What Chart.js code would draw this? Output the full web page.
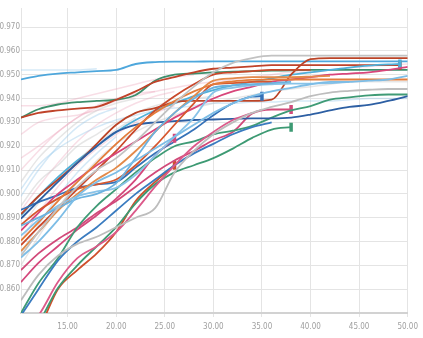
<!DOCTYPE html>
<html>
<head>
<meta charset="utf-8">
<script src="https://cdn.jsdelivr.net/npm/chart.js@4.4.1/dist/chart.umd.min.js"></script>
<style>
html, body { margin: 0; padding: 0; background: #fff; }
#wrap { width: 423px; height: 338px; }
</style>
</head>
<body>
<div id="wrap"><canvas id="runChart"></canvas></div>
<script>
//############################ Data ############################
// shared x positions (epoch) for every run
const epochs = [10.2, 12, 14, 16, 18, 20, 22, 24, 26, 28, 30, 32, 34, 36, 38, 40, 42, 44, 46, 48, 50];

// tick labels
const xTicks = [15, 20, 25, 30, 35, 40, 45, 50];
const yTicks = [0.86, 0.87, 0.88, 0.89, 0.90, 0.91, 0.92, 0.93, 0.94, 0.95, 0.96, 0.97];

// highlighted runs (accuracy per epoch)
const skyRun = [0.948, 0.9495, 0.9505, 0.951, 0.9515, 0.952, 0.9545, 0.9553, 0.9555, 0.9555, 0.9556, 0.9556, 0.9556, 0.9556, 0.9556, 0.9556, 0.9556, 0.9556, 0.9556, 0.9556, 0.9556];
const greenTop = [0.932, 0.9355, 0.9375, 0.9385, 0.939, 0.9395, 0.9415, 0.9475, 0.950, 0.9505, 0.951, 0.9513, 0.9515, 0.9517, 0.9518, 0.952, 0.952, 0.952, 0.952, 0.952, 0.952];
const redTop = [0.932, 0.934, 0.935, 0.9358, 0.9365, 0.9395, 0.943, 0.947, 0.949, 0.951, 0.9525, 0.953, 0.9535, 0.954, 0.954, 0.954, 0.954, 0.954, 0.954, 0.954];
const redTopEnd = [49.2, 0.954];
const redJump = [0.8915, 0.899, 0.906, 0.913, 0.921, 0.929, 0.934, 0.936, 0.9385, 0.939, 0.939, 0.939, 0.939, 0.9395, 0.950, 0.9565, 0.957, 0.957, 0.957, 0.957, 0.957];
const grayTop = [0.874, 0.884, 0.894, 0.903, 0.910, 0.915, 0.922, 0.930, 0.938, 0.945, 0.951, 0.955, 0.957, 0.958, 0.958, 0.958, 0.958, 0.958, 0.958, 0.958, 0.958];
const cyanRun = [0.891, 0.899, 0.907, 0.914, 0.920, 0.926, 0.931, 0.935, 0.938, 0.941, 0.9435, 0.9455, 0.947, 0.9485, 0.950, 0.951, 0.952, 0.953, 0.9538, 0.9543];
const cyanEnd = [49.2, 0.9545];
const pinkTop = [0.8846, 0.892, 0.900, 0.906, 0.912, 0.917, 0.922, 0.927, 0.932, 0.936, 0.940, 0.943, 0.945, 0.947, 0.948, 0.949, 0.950, 0.9505, 0.951, 0.952, 0.9533];
const lightBlueA = [0.8733, 0.880, 0.889, 0.899, 0.905, 0.909, 0.914, 0.919, 0.924, 0.929, 0.934, 0.938, 0.941, 0.943, 0.9445, 0.946, 0.947, 0.947, 0.9475, 0.948, 0.9495];
const orangeFlat = [0.8804, 0.888, 0.897, 0.905, 0.913, 0.921, 0.928, 0.934, 0.939, 0.943, 0.946, 0.9472, 0.9478, 0.948, 0.948, 0.948, 0.948, 0.948, 0.948, 0.948, 0.948];
const grayMid = [0.8554, 0.866, 0.874, 0.879, 0.882, 0.886, 0.890, 0.894, 0.909, 0.918, 0.925, 0.930, 0.934, 0.9365, 0.9385, 0.941, 0.9425, 0.9432, 0.9437, 0.944, 0.944];
const greenMid = [0.85, 0.8625, 0.873, 0.886, 0.895, 0.902, 0.909, 0.915, 0.920, 0.922, 0.925, 0.9265, 0.9285, 0.932, 0.935, 0.9368, 0.9395, 0.9405, 0.9413, 0.9417, 0.9417];
const darkBlue = [0.8896, 0.897, 0.905, 0.913, 0.920, 0.926, 0.929, 0.930, 0.9305, 0.931, 0.9312, 0.9315, 0.9317, 0.9317, 0.932, 0.9333, 0.935, 0.9365, 0.9373, 0.939, 0.941];
const blueShort = [0.8933, 0.8965, 0.8995, 0.9025, 0.904, 0.905, 0.911, 0.917, 0.922, 0.927, 0.933, 0.938, 0.9408];
const blueShortEnd = [35, 0.941];
const pinkMark = [0.868, 0.875, 0.881, 0.886, 0.892, 0.897, 0.903, 0.909, 0.914, 0.918, 0.9225, 0.926, 0.9337, 0.9354, 0.9354];
const greenMark = [0.84, 0.846, 0.8605, 0.870, 0.878, 0.886, 0.896, 0.904, 0.909, 0.912, 0.915, 0.919, 0.9235, 0.927, 0.928];
const pinkEarly = [0.863, 0.871, 0.878, 0.885, 0.891, 0.898, 0.906, 0.916, 0.9233];
const orangeEarly = [0.835, 0.843, 0.860, 0.868, 0.875, 0.884, 0.897, 0.905, 0.912];
const blueLow = [0.849, 0.860, 0.872, 0.880, 0.886, 0.893, 0.900, 0.906, 0.912, 0.917, 0.921, 0.925, 0.928, 0.930];
const lightBlueB = [0.8867, 0.890, 0.894, 0.898, 0.900, 0.9045, 0.915, 0.926, 0.934, 0.940, 0.9446, 0.9455, 0.946, 0.9465, 0.947];
const orangeMid = [0.876, 0.884, 0.893, 0.900, 0.906, 0.911, 0.918, 0.926, 0.934, 0.941, 0.9475, 0.9485, 0.949, 0.949, 0.949, 0.9492, 0.9495];
const orangeRed = [0.887, 0.893, 0.898, 0.902, 0.904, 0.906, 0.912, 0.920, 0.929, 0.938, 0.946, 0.9465, 0.947, 0.947];
const lightBlueC = [0.8825, 0.889, 0.895, 0.899, 0.901, 0.9025, 0.908, 0.916, 0.924, 0.932, 0.9425, 0.9445, 0.9455, 0.946, 0.9463, 0.9463, 0.9465, 0.947];
const pinkLow = [0.842, 0.849, 0.863, 0.873, 0.878, 0.884, 0.893, 0.903, 0.912, 0.920, 0.926, 0.931, 0.934];
const redMid = [0.8785, 0.886, 0.894, 0.902, 0.910, 0.918, 0.927, 0.935, 0.941, 0.946, 0.950, 0.951, 0.9515, 0.952, 0.952, 0.952];

// faded background runs
const fadeA = [0.905, 0.915, 0.923, 0.930, 0.935, 0.938, 0.940];
const fadeB = [0.910, 0.918, 0.926, 0.932, 0.937, 0.940, 0.942, 0.943];
const fadeC = [0.899, 0.910, 0.920, 0.928, 0.933, 0.936];
const fadeD = [0.937, 0.937, 0.938, 0.940, 0.942, 0.944, 0.946, 0.948, 0.949, 0.950];
const fadeE = [0.895, 0.905, 0.912, 0.920, 0.925, 0.930, 0.934, 0.937, 0.939, 0.940, 0.941];
const fadeF = [0.880, 0.892, 0.903, 0.912, 0.919, 0.925, 0.930, 0.934, 0.937];
const fadeG = [0.870, 0.882, 0.894, 0.905, 0.914, 0.921, 0.926, 0.930, 0.933, 0.936, 0.938, 0.940, 0.9415, 0.943, 0.944, 0.945, 0.946, 0.947, 0.947, 0.947, 0.947];
const fadeH = [0.902, 0.912, 0.919, 0.924, 0.928, 0.931, 0.933, 0.935, 0.936, 0.937, 0.938, 0.938, 0.9385, 0.9385, 0.939, 0.939, 0.939, 0.9395, 0.940, 0.940, 0.940];
const fadeI = [0.886, 0.896, 0.906, 0.914, 0.921, 0.927, 0.932];
const fadeJ = [0.893, 0.903, 0.913, 0.922, 0.929, 0.934, 0.938, 0.941, 0.943];
const fadeK = [0.875, 0.887, 0.899, 0.909, 0.917, 0.924];
const fadeL = [0.925, 0.930, 0.932, 0.933, 0.935, 0.936];
const fadeM = [0.952, 0.952, 0.952, 0.952, 0.9525];
const fadeN = [0.915, 0.920, 0.926, 0.932, 0.936, 0.939, 0.941, 0.943, 0.9445, 0.946, 0.947, 0.948, 0.949, 0.950, 0.951, 0.951, 0.952, 0.953, 0.9535, 0.954, 0.9545];

//############################ Build datasets ############################
const FADE_GRAY = 'rgba(200, 200, 200, 0.45)';
const FADE_PINK = 'rgba(236, 160, 182, 0.35)';
const FADE_BLUE = 'rgba(150, 200, 235, 0.4)';

const fadedRuns = [
    [fadeA, FADE_GRAY], [fadeB, FADE_PINK], [fadeC, FADE_BLUE], [fadeD, FADE_PINK],
    [fadeE, FADE_GRAY], [fadeF, FADE_PINK], [fadeG, FADE_GRAY], [fadeH, FADE_BLUE],
    [fadeI, FADE_GRAY], [fadeJ, FADE_PINK], [fadeK, FADE_BLUE], [fadeL, FADE_PINK],
    [fadeM, FADE_BLUE], [fadeN, FADE_PINK],
];

const mainRuns = [
    [grayTop, '#c2c2c2'], [grayMid, '#bdbdbd'],
    [lightBlueA, '#7dbde6'], [lightBlueB, '#6cb2df'], [lightBlueC, '#88c3e8'],
    [orangeFlat, '#e37c3b'], [orangeMid, '#e38a4a'], [orangeRed, '#d6572f'],
    [pinkTop, '#d8467b'], [pinkLow, '#dc5a8a'], [redMid, '#c9482b'],
    [blueLow, '#3b7cc0'], [darkBlue, '#2d5fa3'], [greenMid, '#3f9b76'],
    [greenMark, '#3d9a73', true], [pinkMark, '#d14a7a', true],
    [pinkEarly, '#d4487c', true], [orangeEarly, '#cf4f2c', true],
    [blueShort, '#3572b8', true, blueShortEnd],
    [redJump, '#bb4427'],
    [cyanRun, '#4fb0d9', true, cyanEnd],
    [redTop, '#c0432a', true, redTopEnd],
    [greenTop, '#3d8f6c'], [skyRun, '#4ea7dc'],
];

const toPoints = (vals, end) => {
    const pts = vals.map((v, i) => ({ x: epochs[i], y: v }));
    if (end) pts.push({ x: end[0], y: end[1] });
    return pts;
};

const datasets = [];
fadedRuns.forEach(([vals, color]) => {
    datasets.push({
        data: toPoints(vals),
        borderColor: color,
        borderWidth: 1.5,
        pointRadius: 0,
        order: 2,
    });
});
mainRuns.forEach(([vals, color, marked, end]) => {
    const pts = toPoints(vals, end);
    datasets.push({
        data: pts,
        borderColor: color,
        backgroundColor: color,
        borderWidth: 1.8,
        pointStyle: 'line',
        rotation: 90,
        pointBorderWidth: 3.5,
        pointBorderColor: color,
        pointRadius: ctx => (marked && ctx.dataIndex === pts.length - 1) ? 4.5 : 0,
        order: 1,
    });
});

//############################ Chart ############################
const tickFont = { family: "'Liberation Sans Narrow', 'DejaVu Sans Condensed', Roboto, sans-serif", size: 8 };

new Chart(document.getElementById('runChart'), {
    type: 'line',
    data: { datasets: datasets },
    options: {
        responsive: true,
        maintainAspectRatio: false,
        animation: false,
        cubicInterpolationMode: 'monotone',
        layout: { padding: { top: 5, right: 10, left: 0, bottom: 0 } },
        plugins: {
            legend: { display: false },
            tooltip: { enabled: false },
        },
        scales: {
            x: {
                type: 'linear',
                min: 10.2,
                max: 50,
                afterBuildTicks: scale => { scale.ticks = xTicks.map(v => ({ value: v })); },
                afterFit: scale => { scale.height = 25; },
                ticks: {
                    color: '#a0a0a0',
                    font: tickFont,
                    padding: 5,
                    maxRotation: 0,
                    callback: v => v.toFixed(2),
                },
                grid: { color: '#e4e4e4', tickLength: 4 },
                border: { color: '#d2d2d2', width: 2 },
            },
            y: {
                min: 0.85,
                max: 0.978,
                afterBuildTicks: scale => { scale.ticks = yTicks.map(v => ({ value: v })); },
                afterFit: scale => { scale.width = 21; },
                ticks: {
                    color: '#a0a0a0',
                    font: tickFont,
                    padding: 1,
                    callback: v => v.toFixed(3),
                },
                grid: { color: '#e4e4e4', drawTicks: false },
                border: { color: '#e4e4e4' },
            },
        },
    },
});
</script>
</body>
</html>
